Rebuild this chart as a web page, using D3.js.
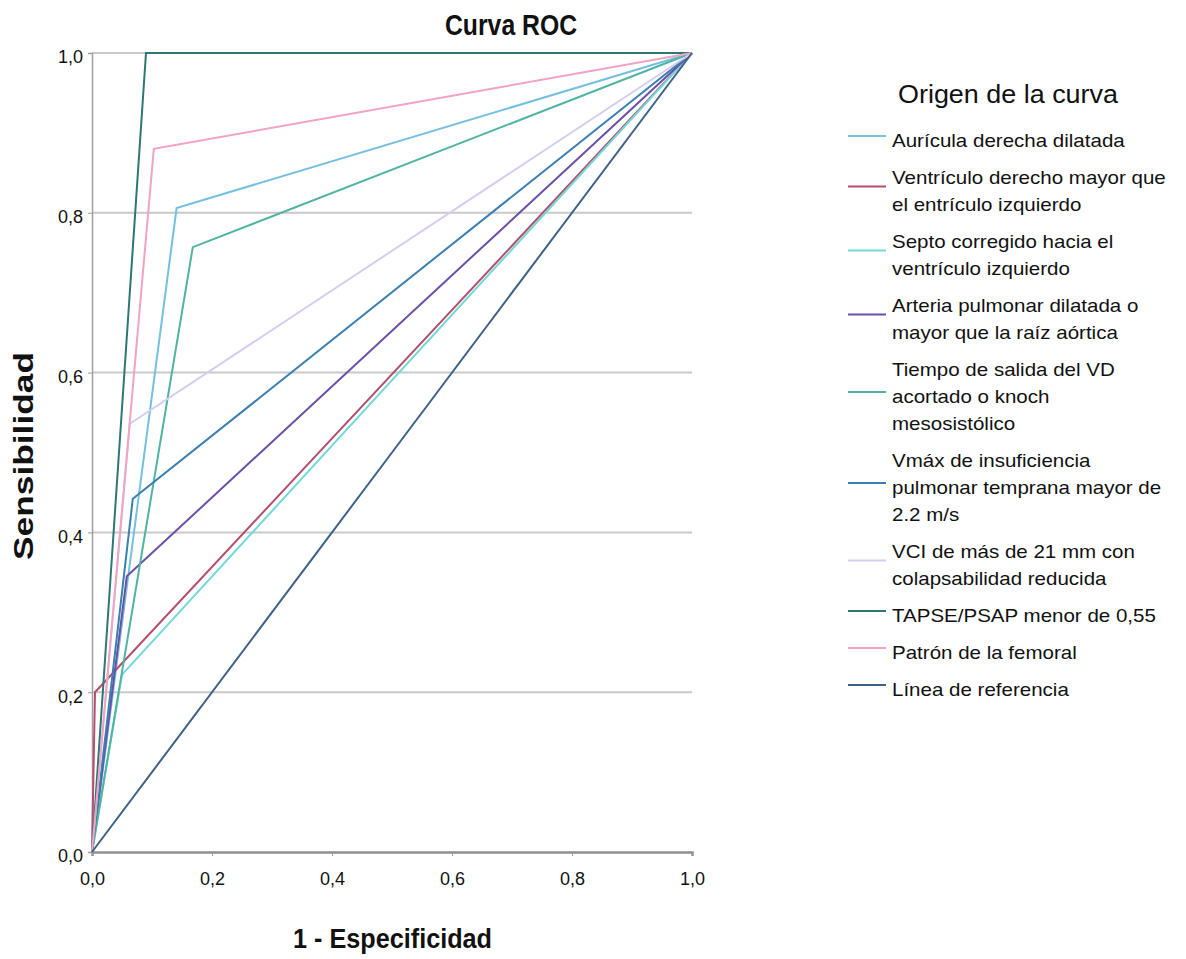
<!DOCTYPE html>
<html><head><meta charset="utf-8">
<script src="https://cdn.jsdelivr.net/npm/d3@7"></script>
<style>
body{margin:0;background:#fff;}
text{font-family:"Liberation Sans Narrow","Arial Narrow","Liberation Sans",Arial,sans-serif;fill:#111;}
</style></head>
<body><svg id="c" width="1186" height="959"></svg>
<script>
// ---- data ----
const seriesNames = [
  "Aurícula derecha dilatada",
  "Ventrículo derecho mayor que|el entrículo izquierdo",
  "Septo corregido hacia el|ventrículo izquierdo",
  "Arteria pulmonar dilatada o|mayor que la raíz aórtica",
  "Tiempo de salida del VD|acortado o knoch|mesosistólico",
  "Vmáx de insuficiencia|pulmonar temprana mayor de|2.2 m/s",
  "VCI de más de 21 mm con|colapsabilidad reducida",
  "TAPSE/PSAP menor de 0,55",
  "Patrón de la femoral",
  "Línea de referencia"
];
const seriesColors = ["#74c0e0","#b4506e","#72d8d8","#6a50a6","#4fb4a2","#3b7fb2","#d6ccf2","#2d7874","#f2a2c2","#3d6286"];
// 1 - specificity at the cut point
const fprValues = [0.141, 0.005, 0.050, 0.058, 0.168, 0.068, 0.063, 0.090, 0.103, 0.5];
// sensitivity at the cut point
const tprValues = [0.806, 0.200, 0.222, 0.345, 0.757, 0.442, 0.536, 1.000, 0.880, 0.5];
const tickValues = [0, 0.2, 0.4, 0.6, 0.8, 1.0];
const tickLabels = ["0,0","0,2","0,4","0,6","0,8","1,0"];

// ---- chart ----
const svg = d3.select("#c");
const x = d3.scaleLinear().domain([0,1]).range([92,692]);
const y = d3.scaleLinear().domain([0,1]).range([852,53]);

// gridlines
svg.append("g").selectAll("line").data(tickValues.slice(1)).join("line")
  .attr("x1",x(0)).attr("x2",x(1)).attr("y1",d=>y(d)).attr("y2",d=>y(d))
  .attr("stroke","#c9c9c9").attr("stroke-width",2);

// axes
const yAxis = d3.axisLeft(y).tickValues(tickValues).tickFormat((d,i)=>tickLabels[i]).tickSize(4).tickPadding(5);
const gy = svg.append("g").attr("transform",`translate(${x(0)},0)`).call(yAxis);
const xAxis = d3.axisBottom(x).tickValues(tickValues).tickFormat((d,i)=>tickLabels[i]).tickSize(4).tickPadding(16);
const gx = svg.append("g").attr("transform",`translate(0,${y(0)})`).call(xAxis);
[gx,gy].forEach(g=>{
  g.select(".domain").attr("stroke","#8f8f8f").attr("stroke-width",2.5);
  g.selectAll(".tick line").attr("stroke","#9a9a9a");
  g.selectAll(".tick text").attr("font-size",18).attr("fill","#222")
    .style("font-family",'"Liberation Sans Narrow","Arial Narrow","Liberation Sans",Arial,sans-serif');
});
gy.select(".domain").attr("stroke-width",1.5).attr("stroke","#a0a0a0");
gy.selectAll(".tick text").attr("dy","0.55em");

// curves
const line = d3.line().x(d=>x(d[0])).y(d=>y(d[1]));
const curves = seriesNames.map((n,i)=>({name:n,color:seriesColors[i],pts:[[0,0],[fprValues[i],tprValues[i]],[1,1]]}));
svg.append("g").selectAll("path").data(curves).join("path")
  .attr("d",d=>line(d.pts)).attr("fill","none").attr("stroke",d=>d.color).attr("stroke-width",2);

// titles
svg.append("text").attr("x",511).attr("y",35).attr("text-anchor","middle")
  .attr("font-size",29).attr("font-weight","bold")
  .attr("textLength",132).attr("lengthAdjust","spacingAndGlyphs").text("Curva ROC");
svg.append("text").attr("x",392.5).attr("y",948).attr("text-anchor","middle")
  .attr("font-size",28).attr("font-weight","bold")
  .attr("textLength",199).attr("lengthAdjust","spacingAndGlyphs").text("1 - Especificidad");
svg.append("text").attr("transform","translate(33,456) rotate(-90)").attr("text-anchor","middle")
  .attr("font-size",27).attr("font-weight","bold")
  .attr("textLength",208).attr("lengthAdjust","spacingAndGlyphs").text("Sensibilidad");

// legend
svg.append("text").attr("x",1008).attr("y",103).attr("text-anchor","middle")
  .attr("font-size",25).attr("textLength",220).attr("lengthAdjust","spacingAndGlyphs")
  .text("Origen de la curva");
const LH = 27, GAP = 10;
let by = 147;
const lg = svg.append("g");
curves.forEach(c=>{
  const lines = c.name.split("|");
  const g = lg.append("g");
  lines.forEach((t,k)=>{
    const tx = g.append("text").attr("x",892).attr("y",by + k*LH)
      .attr("font-size",19).text(t);
    const w = tx.node().getComputedTextLength();
    tx.attr("textLength",w*1.08).attr("lengthAdjust","spacingAndGlyphs");
  });
  const mid = by + (lines.length-1)*LH/2 - 11;
  g.append("line").attr("x1",848).attr("x2",886).attr("y1",mid).attr("y2",mid)
    .attr("stroke",c.color).attr("stroke-width",2);
  by += (lines.length-1)*LH + LH + GAP;
});
</script></body></html>
